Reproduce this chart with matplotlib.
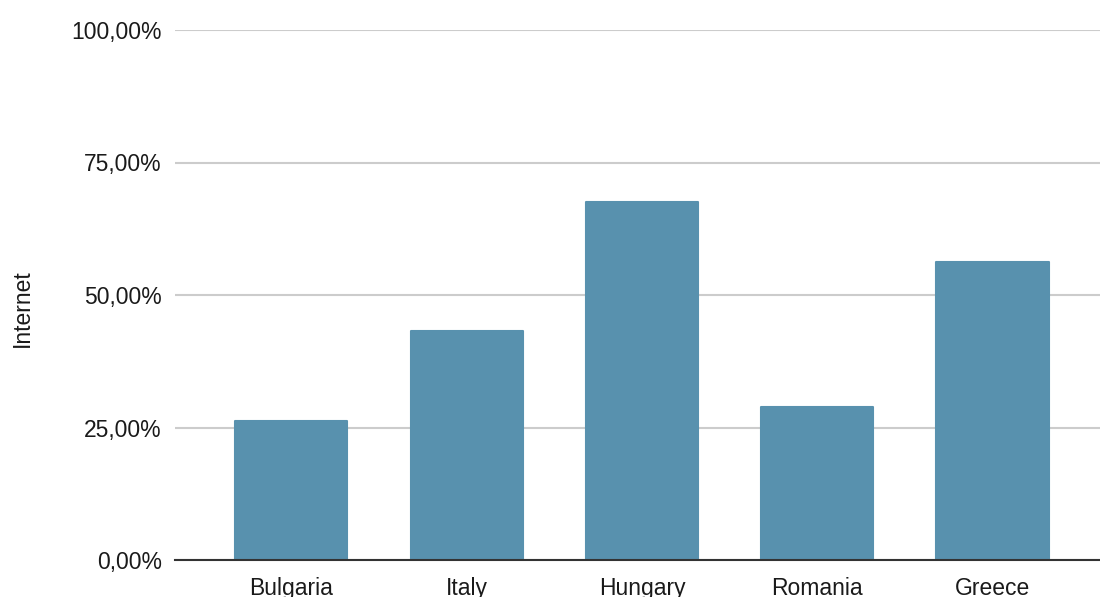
import matplotlib
matplotlib.use("Agg")
import matplotlib.pyplot as plt
from matplotlib.ticker import FuncFormatter

countries = ["Bulgaria", "Italy", "Hungary", "Romania", "Greece"]
internet = [0.262, 0.433, 0.676, 0.289, 0.562]
y_ticks = [0.0, 0.25, 0.5, 0.75, 1.0]

plt.rcParams['font.family'] = ['Liberation Sans', 'DejaVu Sans']

fig = plt.figure(figsize=(11, 5.97), dpi=100)
ax = fig.add_axes([175/1100, 1-560/597, 925/1100, 530/597])

bar_color = "#5891AE"
x = range(len(countries))
ax.bar(x, internet, width=0.64, color=bar_color, edgecolor=bar_color,
       linewidth=1.5, joinstyle='round', zorder=3)

ax.set_ylim(0, 1.0)
ax.set_xlim(-0.664, 4.613)
ax.set_yticks(y_ticks)
ax.yaxis.set_major_formatter(FuncFormatter(lambda v, p: f"{v*100:.2f}".replace('.', ',') + "%"))
ax.set_xticks(list(x))
ax.set_xticklabels(countries)

ax.grid(axis='y', color='#cccccc', linewidth=1.5, zorder=0)
ax.set_axisbelow(True)
for s in ['top', 'right', 'left']:
    ax.spines[s].set_visible(False)
ax.spines['bottom'].set_color('#333333')
ax.spines['bottom'].set_linewidth(1.5)
ax.spines['bottom'].set_zorder(4)

ax.tick_params(axis='y', length=0, pad=9.5, labelsize=16.5, labelcolor='#1a1a1a')
ax.tick_params(axis='x', length=0, pad=12.5, labelsize=16.5, labelcolor='#1a1a1a')

fig.text(22/1100, 1-308/597, 'Internet', rotation=90, ha='center', va='center',
         fontsize=16.5, color='#1a1a1a')

fig.savefig("out.png", dpi=100)
